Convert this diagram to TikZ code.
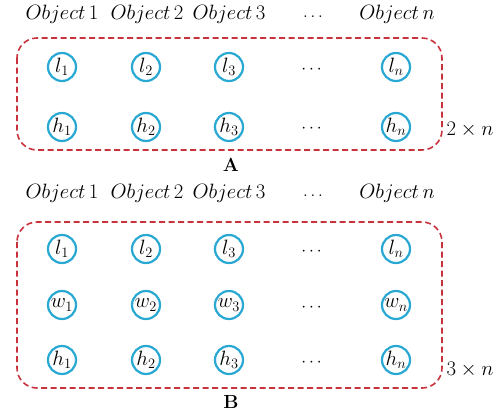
\documentclass[tikz,border=0pt]{standalone}
\usepackage{amsmath}
\definecolor{circblue}{RGB}{40,168,210}
\definecolor{boxred}{RGB}{200,50,60}
\begin{document}
\begin{tikzpicture}[x=1pt,y=-1pt,
  var/.style={circle,draw=circblue,line width=2.2pt,minimum size=28pt,inner sep=0pt,font=\fontsize{21}{23}\selectfont},
  lbl/.style={font=\fontsize{21}{23}\selectfont,inner sep=0pt},
  dimlbl/.style={font=\fontsize{20.5}{22}\selectfont,inner sep=0pt},
  dotsn/.style={font=\fontsize{19}{21}\selectfont,inner sep=0pt},
  dashbox/.style={draw=boxred,line width=1.6pt,dash pattern=on 6pt off 3.5pt,rounded corners=20pt},
  capt/.style={font=\fontsize{19}{21}\selectfont\bfseries,inner sep=0pt}]
\useasboundingbox (0,0) rectangle (500,418);
% ---------- A ----------
\foreach \x/\t [count=\i] in {62/1,147/2,229/3}{
  \node[lbl] (oa\i) at (\x,14) {$Object\,\t$};
}
\node[dotsn] (oadots) at (313,17) {$\ldots$};
\node[lbl] (oan) at (397,14) {$Object\,n$};
\foreach \x/\t [count=\i] in {62/1,146/2,229/3}{
  \node[var] (al\i) at (\x,67) {$l_{\t}$};
  \node[var] (ah\i) at (\x,127) {$h_{\t}$};
}
\node[dotsn] (aldots) at (313,70) {$\cdots$};
\node[dotsn] (ahdots) at (313,129) {$\cdots$};
\node[var] (aln) at (396,67) {$l_n$};
\node[var] (ahn) at (396,127) {$h_n$};
\draw[dashbox] (17,38) rectangle (442,150);
\node[dimlbl] (adim) at (470,130) {$2\times n$};
\node[capt] (capA) at (231,165) {A};
% ---------- B ----------
\foreach \x/\t [count=\i] in {62/1,147/2,229/3}{
  \node[lbl] (ob\i) at (\x,193) {$Object\,\t$};
}
\node[dotsn] (obdots) at (313,196) {$\ldots$};
\node[lbl] (obn) at (397,193) {$Object\,n$};
\foreach \x/\t [count=\i] in {62/1,146/2,229/3}{
  \node[var] (bl\i) at (\x,249) {$l_{\t}$};
  \node[var] (bw\i) at (\x,305) {$w_{\t}$};
  \node[var] (bh\i) at (\x,360) {$h_{\t}$};
}
\node[dotsn] (bldots) at (313,252) {$\cdots$};
\node[dotsn] (bwdots) at (313,308) {$\cdots$};
\node[dotsn] (bhdots) at (313,363) {$\cdots$};
\node[var] (bln) at (396,249) {$l_n$};
\node[var] (bwn) at (396,305) {$w_n$};
\node[var] (bhn) at (396,360) {$h_n$};
\draw[dashbox] (17,222) rectangle (442,388);
\node[dimlbl] (bdim) at (470,370) {$3\times n$};
\node[capt] (capB) at (231,402) {B};
\end{tikzpicture}
\end{document}
